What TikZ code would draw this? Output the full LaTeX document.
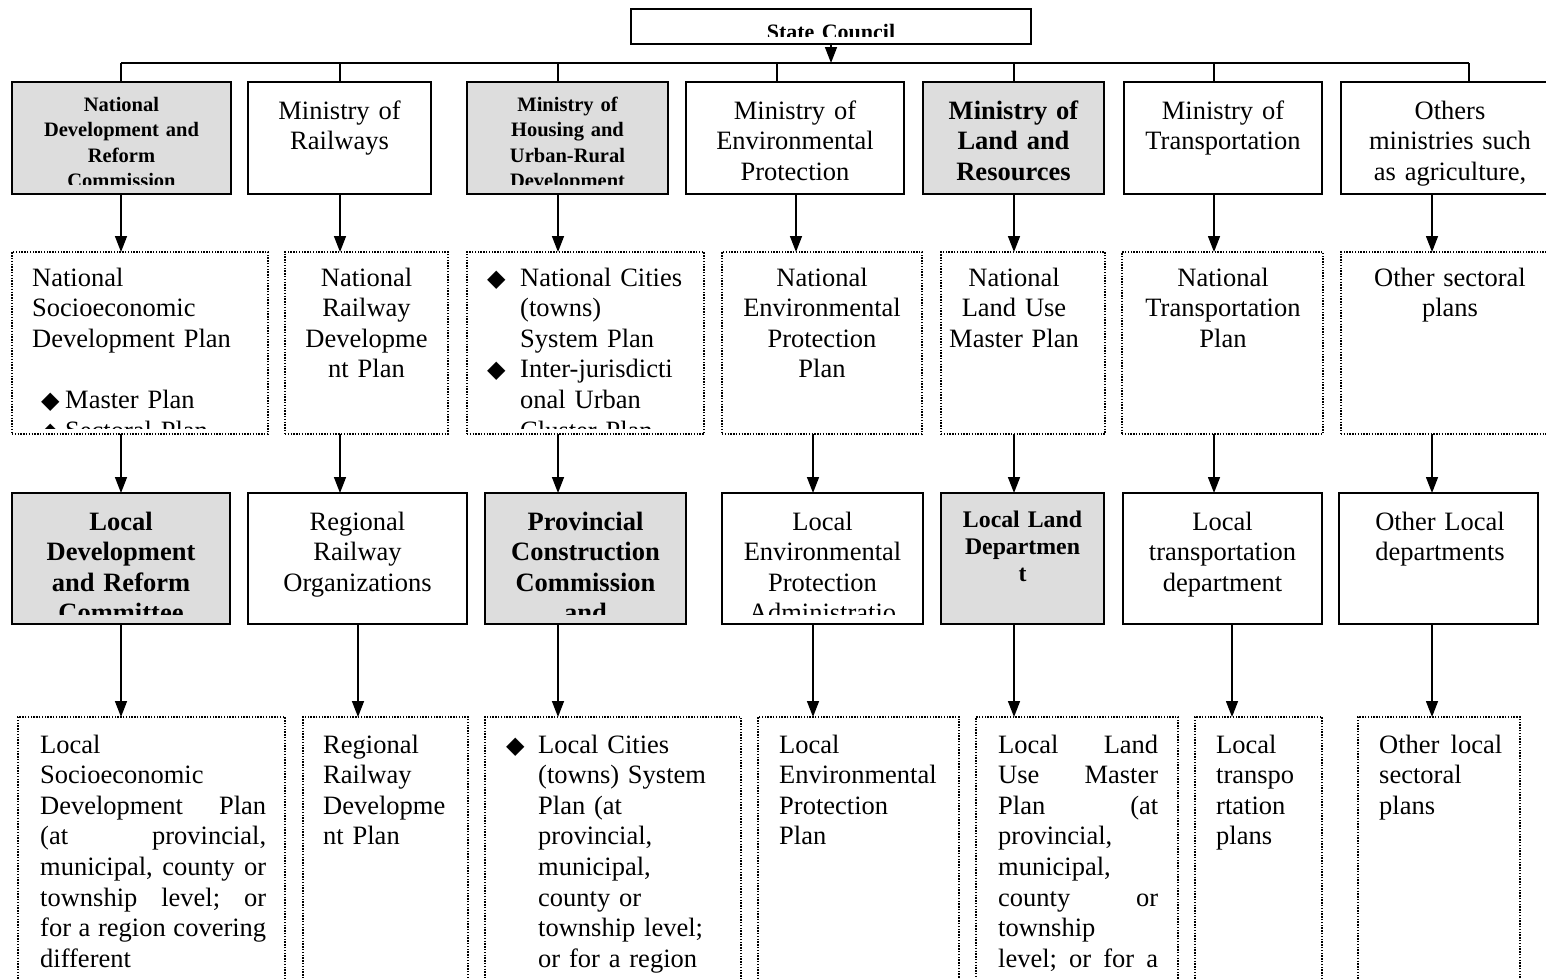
\documentclass[tikz,border=0pt]{standalone}
\usepackage{fontspec}
\setmainfont{Liberation Serif}
\newfontfamily\djv{DejaVu Sans}
\usetikzlibrary{arrows.meta}
\definecolor{boxgray}{RGB}{221,221,221}
\newcommand\rg{\fontsize{26.5pt}{30.6pt}\selectfont}
\newcommand\bsm{\fontsize{20.5pt}{25.5pt}\selectfont\bfseries}
\newcommand\bbg{\fontsize{26.5pt}{30.6pt}\selectfont\bfseries}
\newcommand\bmd{\fontsize{23.8pt}{27pt}\selectfont\bfseries}
\newcommand\dm{{\djv\fontsize{24pt}{24pt}\selectfont ◆}}
\newcommand\bul[1]{\makebox[#1][l]{\dm}}
\newcommand\mkbox[6]{\node[#2, minimum width={#5-#3}, minimum height={#6-#4}] (#1) at ({(#3+#5)/2},{(#4+#6)/2}) {};}
\tikzset{
  sbox/.style={draw, line width=1.6pt, inner sep=0pt, outer sep=0pt, fill=white},
  gbox/.style={sbox, fill=boxgray},
  dbox/.style={draw, line width=1.4pt, dash pattern=on 1.4pt off 1.4pt, inner sep=0pt, outer sep=0pt},
  arr/.style={line width=1.5pt, -{Triangle[length=16pt,width=12pt]}},
  conn/.style={line width=1.5pt},
  ctxt/.style={inner sep=0pt, align=center, anchor=base, font=\rg},
  ltxt/.style={inner sep=0pt, align=left, anchor=base west, font=\rg},
}
\begin{document}
\begin{tikzpicture}[x=1pt,y=-1pt]
\fill[white] (0,0) rectangle (1546,978);
\useasboundingbox (0,0) rectangle (1546,978);

% ---------- boxes ----------
\mkbox{sc}{sbox}{631}{9}{1031}{44}
\mkbox{r1a}{gbox}{12}{82}{231}{194}
\mkbox{r1b}{sbox}{248}{82}{431}{194}
\mkbox{r1c}{gbox}{467}{82}{668}{194}
\mkbox{r1d}{sbox}{686}{82}{904}{194}
\mkbox{r1e}{gbox}{923}{82}{1104}{194}
\mkbox{r1f}{sbox}{1124}{82}{1322}{194}
\mkbox{r1g}{sbox}{1341}{82}{1559}{194}

\mkbox{r2a}{dbox}{12}{252}{268}{434}
\mkbox{r2b}{dbox}{285}{252}{448}{434}
\mkbox{r2c}{dbox}{467}{252}{704}{434}
\mkbox{r2d}{dbox}{722}{252}{922}{434}
\mkbox{r2e}{dbox}{941}{252}{1105}{434}
\mkbox{r2f}{dbox}{1122}{252}{1323}{434}
\mkbox{r2g}{dbox}{1341}{252}{1560}{434}

\mkbox{r3a}{gbox}{12}{493}{230}{624}
\mkbox{r3b}{sbox}{248}{493}{467}{624}
\mkbox{r3c}{gbox}{485}{493}{686}{624}
\mkbox{r3d}{sbox}{722}{493}{923}{624}
\mkbox{r3e}{gbox}{941}{493}{1104}{624}
\mkbox{r3f}{sbox}{1123}{493}{1322}{624}
\mkbox{r3g}{sbox}{1339}{493}{1538}{624}

\mkbox{r4a}{dbox}{18}{717}{285}{995}
\mkbox{r4b}{dbox}{303}{717}{468}{995}
\mkbox{r4c}{dbox}{485}{717}{741}{995}
\mkbox{r4d}{dbox}{758}{717}{959}{995}
\mkbox{r4e}{dbox}{976}{717}{1178}{995}
\mkbox{r4f}{dbox}{1195}{717}{1322}{995}
\mkbox{r4g}{dbox}{1358}{717}{1520}{995}

% ---------- texts ----------
\begin{scope}\clip (sc.north west) rectangle ([yshift=8pt]sc.south east);
\node[ctxt, text width=390pt, font=\fontsize{22pt}{25pt}\selectfont\bfseries] (tsc) at (831,39) {State Council};
\end{scope}

\begin{scope}\clip (r1a.north west) rectangle ([yshift=10pt]r1a.south east);
\node[ctxt, text width=215pt, font=\bsm] (t1a) at (121.5,111) {National\\Development and\\Reform\\Commission};
\end{scope}
\node[ctxt, text width=180pt] (t1b) at (339.5,119) {Ministry of\\Railways};
\begin{scope}\clip (r1c.north west) rectangle ([yshift=10pt]r1c.south east);
\node[ctxt, text width=195pt, font=\bsm] (t1c) at (567.5,111) {Ministry of\\Housing and\\Urban-Rural\\Development};
\end{scope}
\node[ctxt, text width=215pt] (t1d) at (795,119) {Ministry of\\Environmental\\Protection};
\node[ctxt, text width=180pt, font=\bbg] (t1e) at (1013.5,119) {Ministry of\\Land and\\Resources};
\node[ctxt, text width=195pt] (t1f) at (1223,119) {Ministry of\\Transportation};
\node[ctxt, text width=215pt] (t1g) at (1450,119) {Others\\ministries such\\as agriculture,};

\begin{scope}\clip (r2a.north west) rectangle ([yshift=6pt]r2a.south east);
\node[ltxt, text width=232pt] (t2a) at (32,286) {National\\Socioeconomic\\Development Plan\\[30.6pt]\hspace*{9pt}\bul{24pt}Master Plan\\\hspace*{9pt}\bul{24pt}Sectoral Plan};
\end{scope}
\node[ctxt, text width=160pt] (t2b) at (366.5,286) {National\\Railway\\Developme\\nt Plan};
\begin{scope}\clip (r2c.north west) rectangle ([yshift=6pt]r2c.south east);
\node[ltxt, text width=212pt] (t2c) at (487,286) {\bul{33pt}National Cities\\\hspace*{33pt}(towns)\\\hspace*{33pt}System Plan\\\bul{33pt}Inter-jurisdicti\\\hspace*{33pt}onal Urban\\\hspace*{33pt}Cluster Plan};
\end{scope}
\node[ctxt, text width=198pt] (t2d) at (822,286) {National\\Environmental\\Protection\\Plan};
\node[ctxt, text width=160pt] (t2e) at (1014,286) {National\\Land Use\\Master Plan};
\node[ctxt, text width=198pt] (t2f) at (1223,286) {National\\Transportation\\Plan};
\node[ctxt, text width=215pt] (t2g) at (1450,286) {Other sectoral\\plans};

\begin{scope}\clip (r3a.north west) rectangle ([yshift=10pt]r3a.south east);
\node[ctxt, text width=215pt, font=\bbg] (t3a) at (121,530) {Local\\Development\\and Reform\\Committee};
\end{scope}
\node[ctxt, text width=215pt] (t3b) at (357.5,530) {Regional\\Railway\\Organizations};
\begin{scope}\clip (r3c.north west) rectangle ([yshift=10pt]r3c.south east);
\node[ctxt, text width=198pt, font=\bbg] (t3c) at (585.5,530) {Provincial\\Construction\\Commission\\and};
\end{scope}
\begin{scope}\clip (r3d.north west) rectangle ([yshift=10pt]r3d.south east);
\node[ctxt, text width=198pt] (t3d) at (822.5,530) {Local\\Environmental\\Protection\\Administratio};
\end{scope}
\node[ctxt, text width=160pt, font=\bmd] (t3e) at (1022.5,527) {Local Land\\Departmen\\t};
\node[ctxt, text width=198pt] (t3f) at (1222.5,530) {Local\\transportation\\department};
\node[ctxt, text width=198pt] (t3g) at (1440,530) {Other Local\\departments};

\node[ltxt, text width=226pt] (t4a) at (40,753) {Local\\Socioeconomic\\Development\hfill Plan\\(at\hfill provincial,\\municipal,\hfill county\hfill or\\township\hfill level;\hfill or\\for\hfill a\hfill region\hfill covering\\different};
\node[ltxt, text width=140pt] (t4b) at (323,753) {Regional\\Railway\\Developme\\nt Plan};
\node[ltxt, text width=228pt] (t4c) at (506,753) {\bul{32pt}Local Cities\\\hspace*{32pt}(towns) System\\\hspace*{32pt}Plan (at\\\hspace*{32pt}provincial,\\\hspace*{32pt}municipal,\\\hspace*{32pt}county or\\\hspace*{32pt}township level;\\\hspace*{32pt}or for a region};
\node[ltxt, text width=175pt] (t4d) at (779,753) {Local\\Environmental\\Protection\\Plan};
\node[ltxt, text width=160pt] (t4e) at (998,753) {Local\hfill Land\\Use\hfill Master\\Plan\hfill (at\\provincial,\\municipal,\\county\hfill or\\township\\level;\hfill or\hfill for\hfill a};
\node[ltxt, text width=100pt] (t4f) at (1216,753) {Local\\transpo\\rtation\\plans};
\node[ltxt, text width=123pt] (t4g) at (1379,753) {Other\hfill local\\sectoral\\plans};

% ---------- connectors ----------
\coordinate (bL) at (121,63);
\coordinate (bR) at (1469,63);
\draw[arr] (sc.south) -- (sc.south |- bL);
\draw[conn] (bL) -- (bR);
\coordinate (d1) at (121,63);  \coordinate (d2) at (340,63);
\coordinate (d3) at (558,63);  \coordinate (d4) at (777,63);
\coordinate (d5) at (1014,63); \coordinate (d6) at (1214,63);
\coordinate (d7) at (1469,63);
\draw[conn] (d1) -- (d1 |- r1a.north);
\draw[conn] (d2) -- (d2 |- r1b.north);
\draw[conn] (d3) -- (d3 |- r1c.north);
\draw[conn] (d4) -- (d4 |- r1d.north);
\draw[conn] (d5) -- (d5 |- r1e.north);
\draw[conn] (d6) -- (d6 |- r1f.north);
\draw[conn] (d7) -- (d7 |- r1g.north);

\coordinate (a1) at (121,0);  \coordinate (a2) at (340,0);
\coordinate (a3) at (558,0);  \coordinate (a4) at (796,0);
\coordinate (a5) at (1014,0); \coordinate (a6) at (1214,0);
\coordinate (a7) at (1432,0);
\draw[arr] (r1a.south -| a1) -- (r2a.north -| a1);
\draw[arr] (r1b.south -| a2) -- (r2b.north -| a2);
\draw[arr] (r1c.south -| a3) -- (r2c.north -| a3);
\draw[arr] (r1d.south -| a4) -- (r2d.north -| a4);
\draw[arr] (r1e.south -| a5) -- (r2e.north -| a5);
\draw[arr] (r1f.south -| a6) -- (r2f.north -| a6);
\draw[arr] (r1g.south -| a7) -- (r2g.north -| a7);

\coordinate (b1) at (121,0);  \coordinate (b2) at (340,0);
\coordinate (b3) at (558,0);  \coordinate (b4) at (813,0);
\coordinate (b5) at (1014,0); \coordinate (b6) at (1214,0);
\coordinate (b7) at (1432,0);
\draw[arr] (r2a.south -| b1) -- (r3a.north -| b1);
\draw[arr] (r2b.south -| b2) -- (r3b.north -| b2);
\draw[arr] (r2c.south -| b3) -- (r3c.north -| b3);
\draw[arr] (r2d.south -| b4) -- (r3d.north -| b4);
\draw[arr] (r2e.south -| b5) -- (r3e.north -| b5);
\draw[arr] (r2f.south -| b6) -- (r3f.north -| b6);
\draw[arr] (r2g.south -| b7) -- (r3g.north -| b7);

\coordinate (c1) at (121,0);  \coordinate (c2) at (358,0);
\coordinate (c3) at (558,0);  \coordinate (c4) at (813,0);
\coordinate (c5) at (1014,0); \coordinate (c6) at (1232,0);
\coordinate (c7) at (1432,0);
\draw[arr] (r3a.south -| c1) -- (r4a.north -| c1);
\draw[arr] (r3b.south -| c2) -- (r4b.north -| c2);
\draw[arr] (r3c.south -| c3) -- (r4c.north -| c3);
\draw[arr] (r3d.south -| c4) -- (r4d.north -| c4);
\draw[arr] (r3e.south -| c5) -- (r4e.north -| c5);
\draw[arr] (r3f.south -| c6) -- (r4f.north -| c6);
\draw[arr] (r3g.south -| c7) -- (r4g.north -| c7);
\end{tikzpicture}
\end{document}
